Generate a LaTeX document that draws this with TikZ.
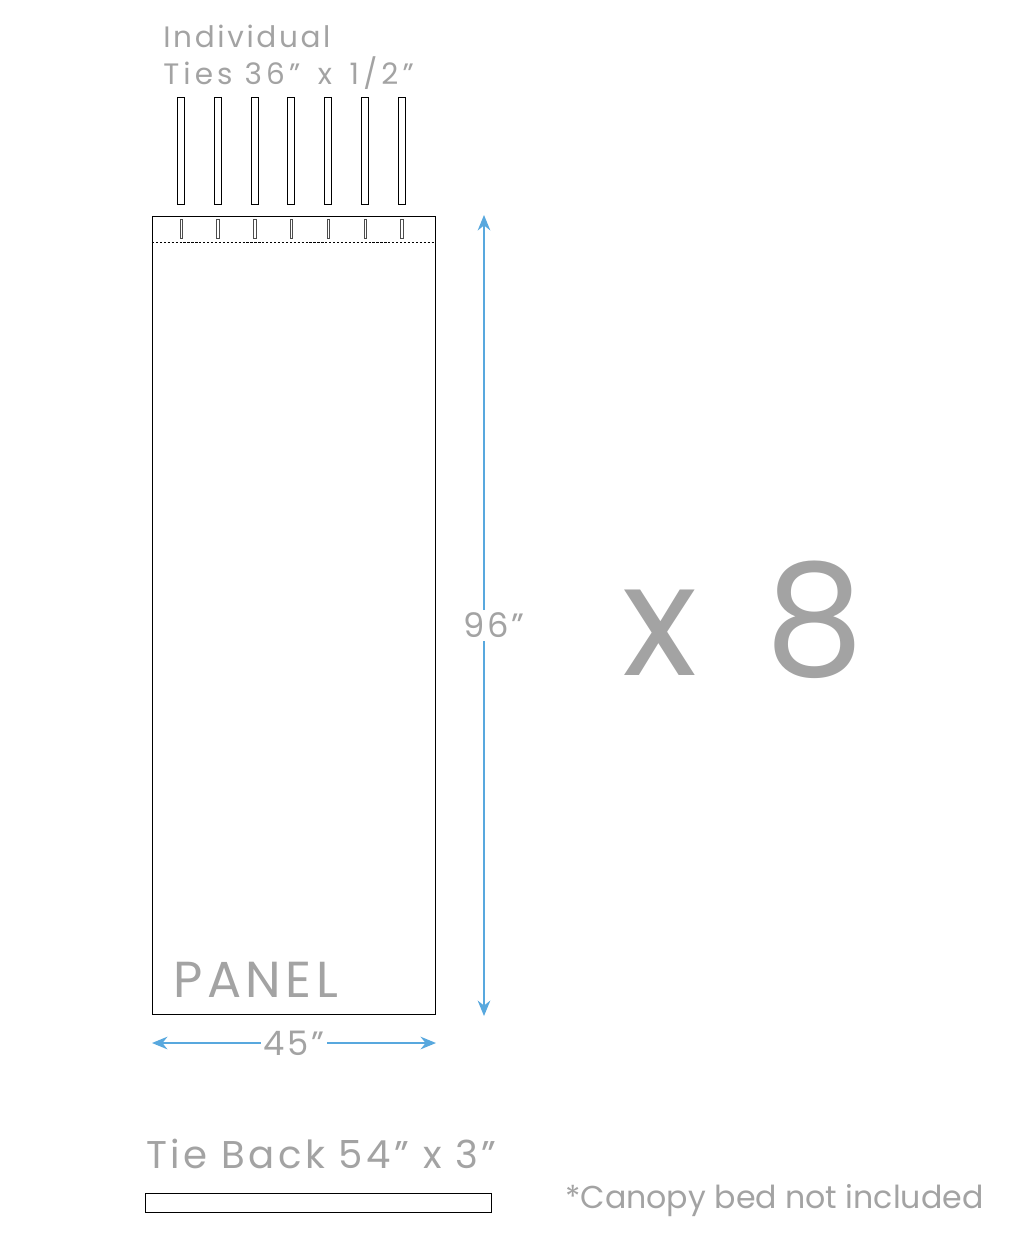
\documentclass[tikz,border=0pt]{standalone}
\usepackage{fontspec}
\setmainfont{Poppins}
\newfontfamily\wide{Poppins}[LetterSpace=9]
\newfontfamily\wider{Poppins}[LetterSpace=14]
\usetikzlibrary{arrows.meta,positioning}
\definecolor{dimblue}{RGB}{88,168,222}
\definecolor{labelgray}{RGB}{163,163,163}
\tikzset{tie/.style={rectangle,draw,line width=0.6pt,minimum width=5pt,minimum height=75.8pt,inner sep=0pt},
         slit/.style={rectangle,draw=black!70,line width=0.3pt,minimum width=1.8pt,minimum height=13.5pt,inner sep=0pt},
         panel/.style={rectangle,draw,line width=0.7pt,minimum width=201.3pt,minimum height=567.6pt,inner sep=0pt},
         tieback/.style={rectangle,draw,line width=0.7pt,minimum width=245.9pt,minimum height=13.5pt,inner sep=0pt},
         label text/.style={text=labelgray,inner sep=0pt},
         dim line/.style={dimblue,line width=1pt,{Stealth[length=11pt,width=9pt]}-{Stealth[length=11pt,width=9pt]}},
         dim label/.style={fill=white,text=labelgray,inner sep=2pt,font=\wide\fontsize{24}{24}\selectfont},
}
\begin{document}
\begin{tikzpicture}[x=0.025cm,y=-0.025cm]
\useasboundingbox (0,0) rectangle (1024,1236);

% individual ties and their slits
\node[label text,anchor=base west,font=\wide\fontsize{21}{21}\selectfont] (tiestop) at (163,47) {Individual};
\node[label text,anchor=base west,font=\wider\fontsize{21}{21}\selectfont] (tiesbot) at (163,84) {Ties 36”\hspace{4pt} x\hspace{4pt} 1/2”};
\foreach \i in {0,...,6}{
  \node[tie] (tie\i) at (181+36.8*\i,151) {};
  \node[slit] (slit\i) at (181+36.8*\i,229) {};
}

% panel
\node[panel] (panel) at (294,615.5) {};
\draw[line width=0.5pt,dash pattern=on 1.6pt off 1.2pt] ([yshift=-19.1pt]panel.north west) -- ([yshift=-19.1pt]panel.north east);
\node[label text,anchor=base west,font=\wide\fontsize{36}{36}\selectfont] (paneltext) at (173,997) {PANEL};

% dimensions
\coordinate (vtop) at (484,215);
\coordinate (vbot) at (484,1016);
\draw[dim line] (vtop) -- node[dim label,xshift=7pt,yshift=-7pt] (height) {96”} (vbot);
\coordinate (hleft) at (152,1043);
\coordinate (hright) at (436,1043);
\draw[dim line] (hleft) -- node[dim label] (width) {45”} (hright);

% quantity
\node[text=labelgray,anchor=base west,inner sep=0pt,font=\wide\fontsize{111}{111}\selectfont] (qty) at (622,675) {x\hspace{9pt} 8};

% tie back
\node[label text,anchor=base west,font=\wide\fontsize{27.5}{27.5}\selectfont] (tiebacktext) at (146,1168) {Tie Back 54” x 3”};
\node[tieback] (tieback) at (318.5,1202.5) {};

\node[label text,anchor=base west,font=\fontsize{22.5}{22.5}\selectfont] (note) at (565,1208) {*Canopy bed not included};
\end{tikzpicture}
\end{document}
